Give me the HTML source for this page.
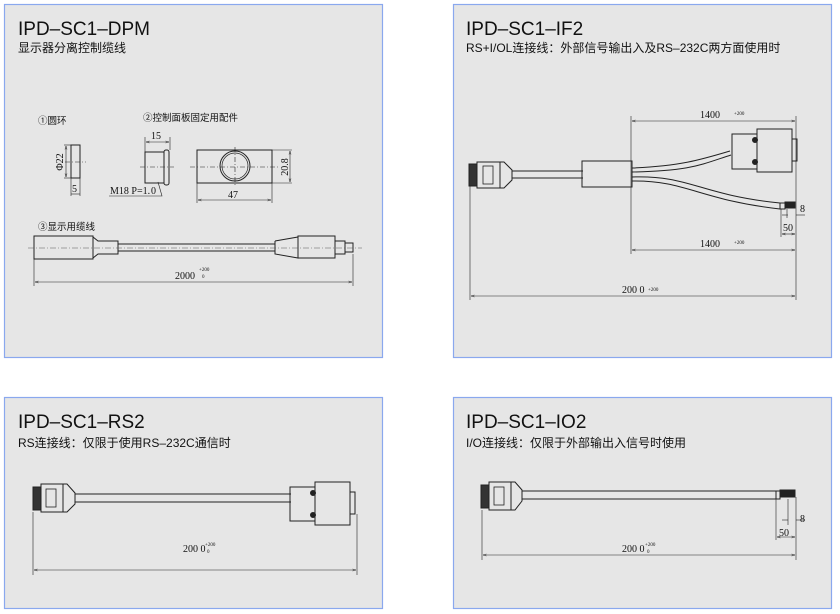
<!DOCTYPE html>
<html><head><meta charset="utf-8"><style>
html,body{margin:0;padding:0;background:#fff;width:840px;height:614px;overflow:hidden}
svg{display:block}
.t{font-family:"Liberation Sans","Noto Sans CJK SC",sans-serif;fill:#111}
.s{font-family:"Liberation Serif",serif;fill:#111}
</style></head><body>
<svg width="840" height="614" viewBox="0 0 840 614" xmlns="http://www.w3.org/2000/svg">
<defs>
<marker id="a" viewBox="0 0 10 10" refX="10" refY="5" markerWidth="6" markerHeight="6" orient="auto-start-reverse"><path d="M0,2 L10,5 L0,8" fill="none" stroke="#222" stroke-width="1.2"/></marker>
</defs>
<g fill="#e6e6e6" stroke="#8aa8ee" stroke-width="1.2">
<rect x="4.5" y="4.5" width="378" height="353"/>
<rect x="453.5" y="4.5" width="378" height="353"/>
<rect x="4.5" y="397.5" width="378" height="211"/>
<rect x="453.5" y="397.5" width="378" height="211"/>
</g>
<text class="t" x="18" y="35" font-size="19">IPD–SC1–DPM</text>
<text class="t" x="18" y="52" font-size="12">显示器分离控制缆线</text>
<text class="t" x="466" y="35" font-size="19">IPD–SC1–IF2</text>
<text class="t" x="466" y="52" font-size="12">RS+I/OL连接线：外部信号输出入及RS–232C两方面使用时</text>
<text class="t" x="18" y="428" font-size="19">IPD–SC1–RS2</text>
<text class="t" x="18" y="447" font-size="12">RS连接线：仅限于使用RS–232C通信时</text>
<text class="t" x="466" y="428" font-size="19">IPD–SC1–IO2</text>
<text class="t" x="466" y="447" font-size="12">I/O连接线：仅限于外部输出入信号时使用</text>

<g stroke="#222" stroke-width="1" fill="none">
<rect x="71" y="145" width="9" height="33"/>
<line x1="65" y1="162" x2="86" y2="162" stroke-dasharray="5,2,1,2" stroke-width=".6"/>
<line x1="64" y1="145" x2="71" y2="145" stroke-width=".6"/><line x1="64" y1="178" x2="71" y2="178" stroke-width=".6"/>
<line x1="66" y1="146" x2="66" y2="177" marker-start="url(#a)" marker-end="url(#a)" stroke-width=".6"/>
<line x1="71" y1="178" x2="71" y2="196" stroke-width=".6"/><line x1="80" y1="178" x2="80" y2="196" stroke-width=".6"/>
<line x1="71" y1="194" x2="80" y2="194" stroke-width=".6"/>
<rect x="145" y="152" width="19" height="31"/>
<rect x="164" y="150" width="5" height="35" rx="2"/>
<line x1="140" y1="167" x2="174" y2="167" stroke-dasharray="5,2,1,2" stroke-width=".6"/>
<line x1="145" y1="137" x2="145" y2="152" stroke-width=".6"/><line x1="170" y1="137" x2="170" y2="150" stroke-width=".6"/>
<line x1="146" y1="142" x2="169" y2="142" marker-start="url(#a)" marker-end="url(#a)" stroke-width=".6"/>
<polyline points="109,196 162,196 158,182" stroke-width=".6"/>
<rect x="197" y="150" width="75" height="33"/>
<circle cx="235" cy="166" r="15"/><circle cx="235" cy="166" r="13" stroke-width=".7"/>
<line x1="190" y1="167" x2="280" y2="167" stroke-dasharray="5,2,1,2" stroke-width=".6"/>
<line x1="235" y1="147" x2="235" y2="186" stroke-dasharray="5,2,1,2" stroke-width=".6"/>
<line x1="272" y1="150" x2="292" y2="150" stroke-width=".6"/><line x1="272" y1="183" x2="292" y2="183" stroke-width=".6"/>
<line x1="290" y1="151" x2="290" y2="182" marker-start="url(#a)" marker-end="url(#a)" stroke-width=".6"/>
<line x1="197" y1="183" x2="197" y2="203" stroke-width=".6"/><line x1="272" y1="183" x2="272" y2="203" stroke-width=".6"/>
<line x1="198" y1="200" x2="271" y2="200" marker-start="url(#a)" marker-end="url(#a)" stroke-width=".6"/>
<rect x="34" y="236" width="59" height="23"/>
<polyline points="93,237 98,241 118,241 118,254 98,254 93,258"/>
<line x1="118" y1="244" x2="275" y2="244"/><line x1="118" y1="251" x2="275" y2="251"/>
<polyline points="275,241 298,237 298,258 275,254 275,241"/>
<rect x="298" y="236" width="37" height="22"/>
<rect x="335" y="241" width="10" height="13"/><rect x="345" y="243" width="8" height="9"/>
<line x1="28" y1="248" x2="362" y2="248" stroke-dasharray="6,2,1,2" stroke-width=".5" stroke="#555"/>
<line x1="34" y1="259" x2="34" y2="286" stroke-width=".6"/><line x1="353" y1="254" x2="353" y2="286" stroke-width=".6"/>
<line x1="35" y1="282" x2="352" y2="282" marker-start="url(#a)" marker-end="url(#a)" stroke-width=".6"/>

<rect x="469" y="164" width="8" height="22" fill="#333"/>
<rect x="477" y="162" width="23" height="26"/>
<polyline points="500,162 504,162 512,170 512,180 504,188 500,188"/>
<rect x="483" y="166" width="10" height="18" stroke-width=".8"/>
<line x1="512" y1="171" x2="583" y2="171"/><line x1="512" y1="178" x2="583" y2="178"/>
<rect x="582" y="161" width="50" height="26"/>
<path d="M632,168 C680,166 700,160 730,151 M632,172 C690,171 700,165 731,155"/>
<path d="M632,177 C690,175 700,195 780,203 M632,181 C685,180 700,200 780,209"/>
<rect x="780" y="203" width="5" height="6"/><rect x="785" y="202" width="10" height="6" fill="#222"/>
<rect x="732" y="134" width="25" height="35"/>
<rect x="757" y="129" width="35" height="43"/>
<rect x="792" y="139" width="5" height="22"/>
<circle cx="755" cy="140" r="2.5" fill="#222"/><circle cx="755" cy="162" r="2.5" fill="#222"/>
<line x1="631" y1="116" x2="631" y2="254" stroke-width=".6"/>
<line x1="796" y1="116" x2="796" y2="300" stroke-width=".6"/>
<line x1="470" y1="186" x2="470" y2="300" stroke-width=".6"/>
<line x1="632" y1="121" x2="795" y2="121" marker-start="url(#a)" marker-end="url(#a)" stroke-width=".6"/>
<line x1="632" y1="250" x2="795" y2="250" marker-start="url(#a)" marker-end="url(#a)" stroke-width=".6"/>
<line x1="471" y1="296" x2="795" y2="296" marker-start="url(#a)" marker-end="url(#a)" stroke-width=".6"/>
<line x1="781" y1="209" x2="781" y2="237" stroke-width=".6"/><line x1="787" y1="209" x2="787" y2="218" stroke-width=".6"/>
<line x1="782" y1="234" x2="795" y2="234" marker-start="url(#a)" marker-end="url(#a)" stroke-width=".6"/>
<line x1="782" y1="215" x2="788" y2="215" stroke-width=".6"/><line x1="796" y1="215" x2="805" y2="215" stroke-width=".6"/>

<rect x="33" y="487" width="8" height="23" fill="#333"/>
<rect x="41" y="484" width="22" height="28"/>
<polyline points="63,484 67,484 75,493 75,504 67,512 63,512"/>
<rect x="46" y="489" width="10" height="18" stroke-width=".8"/>
<line x1="75" y1="494" x2="291" y2="494"/><line x1="75" y1="502" x2="291" y2="502"/>
<rect x="290" y="487" width="25" height="34"/>
<rect x="315" y="482" width="35" height="43"/>
<rect x="350" y="492" width="5" height="22"/>
<circle cx="313" cy="493" r="2.5" fill="#222"/><circle cx="313" cy="515" r="2.5" fill="#222"/>
<line x1="33" y1="512" x2="33" y2="575" stroke-width=".6"/><line x1="357" y1="514" x2="357" y2="575" stroke-width=".6"/>
<line x1="34" y1="570" x2="356" y2="570" marker-start="url(#a)" marker-end="url(#a)" stroke-width=".6"/>

<rect x="481" y="485" width="8" height="23" fill="#333"/>
<rect x="489" y="482" width="22" height="28"/>
<polyline points="511,482 515,482 522,490 522,501 515,510 511,510"/>
<rect x="494" y="487" width="10" height="18" stroke-width=".8"/>
<line x1="522" y1="491" x2="776" y2="491"/><line x1="522" y1="499" x2="776" y2="499"/>
<rect x="776" y="491" width="4" height="8"/><rect x="780" y="490" width="15" height="7" fill="#222"/>
<line x1="482" y1="510" x2="482" y2="560" stroke-width=".6"/><line x1="796" y1="497" x2="796" y2="560" stroke-width=".6"/>
<line x1="776" y1="499" x2="776" y2="540" stroke-width=".6"/><line x1="788" y1="499" x2="788" y2="525" stroke-width=".6"/>
<line x1="483" y1="555" x2="795" y2="555" marker-start="url(#a)" marker-end="url(#a)" stroke-width=".6"/>
<line x1="777" y1="537" x2="795" y2="537" marker-start="url(#a)" marker-end="url(#a)" stroke-width=".6"/>
<line x1="782" y1="520" x2="788" y2="520" stroke-width=".6"/><line x1="796" y1="520" x2="805" y2="520" stroke-width=".6"/>
</g>

<text class="t" x="38" y="124" font-size="9.5">①圆环</text>
<text class="t" x="143" y="121" font-size="9.5">②控制面板固定用配件</text>
<text class="t" x="38" y="230" font-size="9.5">③显示用缆线</text>
<g class="s" font-size="10">
<text x="63" y="162" text-anchor="middle" transform="rotate(-90 63 162)">Φ22</text>
<text x="72" y="192">5</text>
<text x="151" y="139">15</text>
<text x="110" y="194">M18 P=1.</text><text x="151" y="194">0</text>
<text x="288" y="167" text-anchor="middle" transform="rotate(-90 288 167)">20.8</text>
<text x="228" y="198">47</text>
<text x="175" y="279">2000</text>
<text x="700" y="118">1400</text>
<text x="700" y="247">1400</text>
<text x="622" y="293">200 0</text>
<text x="800" y="212">8</text>
<text x="783" y="231">50</text>
<text x="183" y="552">200 0</text>
<text x="622" y="552">200 0</text>
<text x="800" y="522">8</text>
<text x="779" y="536">50</text>
</g>
<g class="s" font-size="5">
<text x="199" y="271">+200</text><text x="202" y="278">0</text>
<text x="734" y="115">+200</text><text x="734" y="244">+200</text><text x="648" y="291">+200</text>
<text x="205" y="546">+200</text><text x="207" y="553">0</text>
<text x="645" y="546">+200</text><text x="647" y="553">0</text>
</g>
</svg>
</body></html>
